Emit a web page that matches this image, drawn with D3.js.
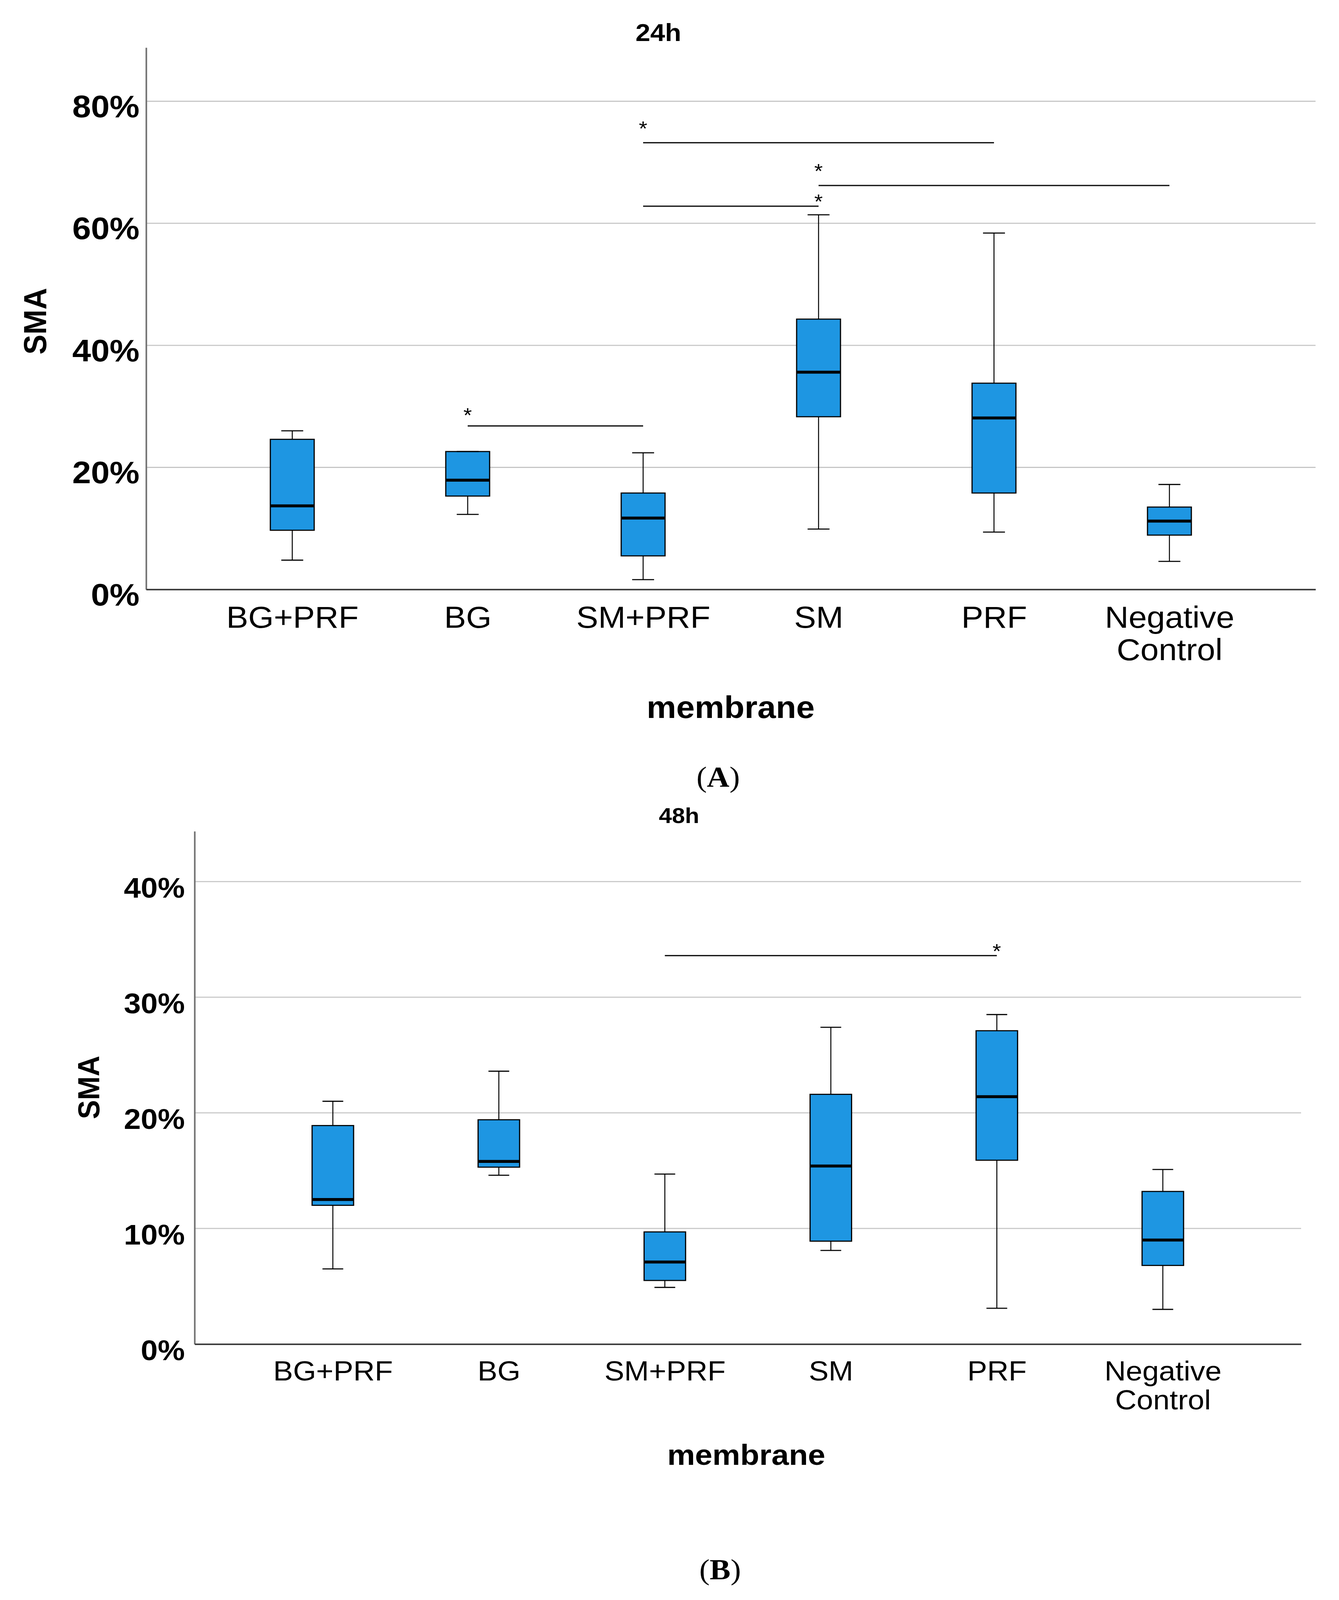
<!DOCTYPE html>
<html>
<head>
<meta charset="utf-8">
<script src="https://cdn.jsdelivr.net/npm/d3@7"></script>
<style>
  html, body { margin: 0; padding: 0; background: #fff; overflow: hidden; }
  #chart { display: block; width: 100vw; height: 100vh; }
  text { font-family: "Liberation Sans", Arial, sans-serif; fill: #000; }
</style>
</head>
<body>
<!-- drawn in reference pixel units, stretched to whatever the viewport is -->
<svg id="chart" viewBox="0 0 3427 4373" preserveAspectRatio="none"></svg>
<script>
const categories = ["BG+PRF", "BG", "SM+PRF", "SM", "PRF", "Negative Control"];

// 24h boxplot values (fractions): lower whisker, Q1, median, Q3, upper whisker
const min24 = [0.048, 0.123, 0.016, 0.099, 0.094, 0.046];
const q1_24 = [0.097, 0.153, 0.055, 0.283, 0.158, 0.089];
const med24 = [0.137, 0.179, 0.117, 0.356, 0.281, 0.112];
const q3_24 = [0.246, 0.226, 0.158, 0.443, 0.338, 0.135];
const max24 = [0.260, 0.226, 0.224, 0.614, 0.584, 0.172];

// 48h boxplot values
const min48 = [0.065, 0.146, 0.049, 0.081, 0.031, 0.030];
const q1_48 = [0.120, 0.153, 0.055, 0.089, 0.159, 0.068];
const med48 = [0.125, 0.158, 0.071, 0.154, 0.214, 0.090];
const q3_48 = [0.189, 0.194, 0.097, 0.216, 0.271, 0.132];
const max48 = [0.210, 0.236, 0.147, 0.274, 0.285, 0.151];

// significance bars
const sigFrom24 = ["BG", "SM+PRF", "SM", "SM+PRF"];
const sigTo24 = ["SM+PRF", "PRF", "Negative Control", "SM"];
const sigLevel24 = [0.268, 0.732, 0.662, 0.628];
const sigStarAt24 = ["BG", "SM+PRF", "SM", "SM"];
const sigStarLevel24 = [0.293, 0.763, 0.693, 0.643];

const sigFrom48 = ["SM+PRF"];
const sigTo48 = ["PRF"];
const sigLevel48 = [0.336];
const sigStarAt48 = ["PRF"];
const sigStarLevel48 = [0.344];

const ticks24 = [0, 0.2, 0.4, 0.6, 0.8];
const ticks48 = [0, 0.1, 0.2, 0.3, 0.4];

const BOX_FILL = "#1e96e2";

const svg = d3.select("#chart");

function drawPanel(p) {
    var g = svg.append("g");

    var x = d3.scalePoint().domain(categories).range([p.left, p.right]).padding(0.833);
    var y = d3.scaleLinear().domain([0, p.yMax]).range([p.bottom, p.top]);
    var boxW = x.step() * 0.25;

    // gridlines
    g.append("g").selectAll("line")
        .data(p.ticks.filter(d => d > 0))
        .join("line")
        .attr("x1", p.left).attr("x2", p.right)
        .attr("y1", d => y(d)).attr("y2", d => y(d))
        .attr("stroke", "#c6c6c6").attr("stroke-width", 3);

    // y axis
    var yAxis = g.append("g")
        .attr("transform", `translate(${p.left},0)`)
        .call(d3.axisLeft(y).tickValues(p.ticks).tickFormat(d3.format(".0%"))
            .tickSize(0).tickSizeOuter(0).tickPadding(p.tickPad));
    yAxis.select(".domain").attr("stroke", "#707070").attr("stroke-width", 4);
    yAxis.selectAll("text")
        .attr("dy", p.tickDy)
        .attr("font-size", p.tickFont)
        .attr("font-weight", "bold")
        .attr("font-family", "Liberation Sans, Arial, sans-serif");

    // x axis
    var xAxis = g.append("g")
        .attr("transform", `translate(0,${p.bottom})`)
        .call(d3.axisBottom(x).tickSize(0).tickSizeOuter(0));
    xAxis.select(".domain").attr("stroke", "#333").attr("stroke-width", 4);
    xAxis.selectAll("text").each(function (d) {
        var t = d3.select(this).text(null)
            .attr("y", p.xLabelDy).attr("dy", null)
            .attr("font-size", p.xFont)
            .attr("font-family", "Liberation Sans, Arial, sans-serif");
        d.split(" ").forEach((w, i) => {
            t.append("tspan").attr("x", 0).attr("dy", i === 0 ? 0 : p.xLineH).text(w);
        });
    });

    // boxes
    var boxes = g.append("g").selectAll("g")
        .data(categories.map((c, i) => ({
            c, lo: p.min[i], q1: p.q1[i], med: p.med[i], q3: p.q3[i], hi: p.max[i]
        })))
        .join("g")
        .attr("transform", d => `translate(${x(d.c)},0)`);

    boxes.append("line")
        .attr("y1", d => y(d.lo)).attr("y2", d => y(d.hi))
        .attr("stroke", "#000").attr("stroke-width", 2.5);
    boxes.append("rect")
        .attr("x", -boxW / 2).attr("width", boxW)
        .attr("y", d => y(d.q3)).attr("height", d => y(d.q1) - y(d.q3))
        .attr("fill", BOX_FILL).attr("stroke", "#000").attr("stroke-width", 3);
    boxes.append("line")
        .attr("x1", -boxW / 2).attr("x2", boxW / 2)
        .attr("y1", d => y(d.med)).attr("y2", d => y(d.med))
        .attr("stroke", "#000").attr("stroke-width", 8);
    ["lo", "hi"].forEach(k => {
        boxes.append("line")
            .attr("x1", -boxW / 4).attr("x2", boxW / 4)
            .attr("y1", d => y(d[k])).attr("y2", d => y(d[k]))
            .attr("stroke", "#000").attr("stroke-width", 3);
    });

    // significance bars
    var sig = g.append("g");
    p.sigFrom.forEach((f, i) => {
        sig.append("line")
            .attr("x1", x(f)).attr("x2", x(p.sigTo[i]))
            .attr("y1", y(p.sigLevel[i])).attr("y2", y(p.sigLevel[i]))
            .attr("stroke", "#111").attr("stroke-width", 3.5);
        sig.append("text")
            .attr("x", x(p.sigStarAt[i]))
            .attr("y", y(p.sigStarLevel[i]) + 32)
            .attr("text-anchor", "middle")
            .attr("font-size", 56)
            .text("*");
    });

    // titles
    g.append("text")
        .attr("x", p.titleX).attr("y", p.titleY)
        .attr("text-anchor", "middle")
        .attr("font-size", p.titleFont).attr("font-weight", "bold")
        .text(p.title);

    g.append("text")
        .attr("transform", `translate(${p.yTitleX},${p.yTitleY}) rotate(-90)`)
        .attr("text-anchor", "middle")
        .attr("font-size", p.yTitleFont).attr("font-weight", "bold")
        .text("SMA");

    g.append("text")
        .attr("x", p.xTitleX).attr("y", p.xTitleY)
        .attr("text-anchor", "middle")
        .attr("font-size", p.xTitleFont).attr("font-weight", "bold")
        .text("membrane");

    var cap = g.append("text")
        .attr("x", p.capX).attr("y", p.capY)
        .attr("text-anchor", "middle")
        .attr("font-size", 80)
        .style("font-family", "Liberation Serif, Times New Roman, serif");
    cap.append("tspan").text("(");
    cap.append("tspan").attr("font-weight", "bold").text(p.caption);
    cap.append("tspan").text(")");
}

drawPanel({
    left: 374, right: 3367, top: 130, bottom: 1611, yMax: 0.888,
    ticks: ticks24, tickFont: 86, tickPad: 17, tickDy: 43,
    xFont: 84, xLabelDy: 105, xLineH: 88,
    min: min24, q1: q1_24, med: med24, q3: q3_24, max: max24,
    sigFrom: sigFrom24, sigTo: sigTo24, sigLevel: sigLevel24,
    sigStarAt: sigStarAt24, sigStarLevel: sigStarLevel24,
    title: "24h", titleX: 1685, titleY: 112, titleFont: 68,
    yTitleX: 118, yTitleY: 878, yTitleFont: 82,
    xTitleX: 1870, xTitleY: 1962, xTitleFont: 85,
    caption: "A", capX: 1838, capY: 2150
});

drawPanel({
    left: 498, right: 3330, top: 2272, bottom: 3673.5, yMax: 0.4435,
    ticks: ticks48, tickFont: 78, tickPad: 25, tickDy: 43,
    xFont: 76, xLabelDy: 100, xLineH: 78,
    min: min48, q1: q1_48, med: med48, q3: q3_48, max: max48,
    sigFrom: sigFrom48, sigTo: sigTo48, sigLevel: sigLevel48,
    sigStarAt: sigStarAt48, sigStarLevel: sigStarLevel48,
    title: "48h", titleX: 1738, titleY: 2249, titleFont: 60,
    yTitleX: 254, yTitleY: 2972, yTitleFont: 78,
    xTitleX: 1910, xTitleY: 4004, xTitleFont: 80,
    caption: "B", capX: 1843, capY: 4316
});
</script>
</body>
</html>
